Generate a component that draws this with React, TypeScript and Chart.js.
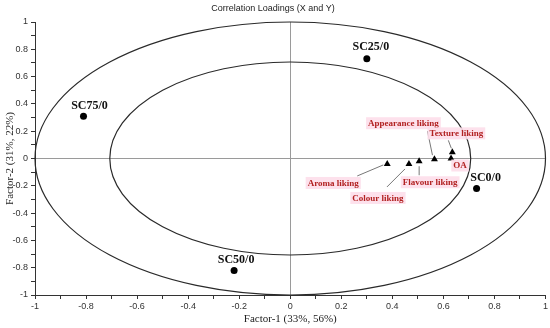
import React, { useEffect, useRef } from "react";
import { Chart, registerables } from "chart.js";

Chart.register(...registerables);

// Samples (X loadings) - circles
const sampleNames = ["SC25/0", "SC75/0", "SC50/0", "SC0/0"];
const sampleX = [0.3, -0.81, -0.22, 0.73];
const sampleY = [0.73, 0.31, -0.82, -0.22];

// Attributes (Y loadings) - triangles
const attrNames = ["Aroma liking", "Colour liking", "Flavour liking", "Appearance liking", "Texture liking", "OA"];
const attrX = [0.38, 0.465, 0.505, 0.565, 0.635, 0.63];
const attrY = [-0.04, -0.04, -0.02, -0.005, 0.045, 0.0];

// Correlation circles
const ellipseRadii = [1, 0.707];

const tickMin = -1;
const tickMax = 1;
const tickStep = 0.1;

const titleText = "Correlation Loadings (X and Y)";
const xTitle = "Factor-1 (33%, 56%)";
const yTitle = "Factor-2 (31%, 22%)";

// label placement (pixel offsets from the marker) – styling only
const sampleLabelOffsets = [
  [4, -12],
  [6, -10],
  [2, -11],
  [9, -11],
];
const attrLabelOffsets = [
  [-54, 19],
  [-31, 34],
  [11, 21],
  [-31, -36],
  [4, -19],
  [9, 7],
];
const attrLeaders: (number[] | null)[] = [
  [-30, 12, -4, 1],
  [-22, 23, -4, 5],
  [0, 14, 0, 5],
  [-7, -28, -2, -4],
  [-4, -12, -1, -4],
  null,
];

const overlayPlugin = {
  id: "overlay",
  beforeDatasetsDraw(chart: any) {
    const { ctx, scales } = chart;
    const xs = scales.x;
    const ys = scales.y;
    const cx = xs.getPixelForValue(0);
    const cy = ys.getPixelForValue(0);
    ctx.save();
    ctx.strokeStyle = "#2a2a2a";
    ctx.lineWidth = 1.2;
    ellipseRadii.forEach((r) => {
      const rx = xs.getPixelForValue(r) - cx;
      const ry = cy - ys.getPixelForValue(r);
      ctx.beginPath();
      ctx.ellipse(cx, cy, rx, ry, 0, 0, Math.PI * 2);
      ctx.stroke();
    });
    ctx.restore();
  },
  afterDatasetsDraw(chart: any) {
    const { ctx, scales } = chart;
    const xs = scales.x;
    const ys = scales.y;
    ctx.save();
    // sample labels
    ctx.font = "bold 12px 'Liberation Serif', 'Times New Roman', serif";
    ctx.fillStyle = "#111";
    ctx.textAlign = "center";
    ctx.textBaseline = "middle";
    sampleNames.forEach((n, i) => {
      const px = xs.getPixelForValue(sampleX[i]);
      const py = ys.getPixelForValue(sampleY[i]);
      ctx.fillText(n, px + sampleLabelOffsets[i][0], py + sampleLabelOffsets[i][1]);
    });
    // attribute leaders
    ctx.strokeStyle = "#777";
    ctx.lineWidth = 1;
    attrNames.forEach((n, i) => {
      const l = attrLeaders[i];
      if (!l) return;
      const px = xs.getPixelForValue(attrX[i]);
      const py = ys.getPixelForValue(attrY[i]);
      ctx.beginPath();
      ctx.moveTo(px + l[0], py + l[1]);
      ctx.lineTo(px + l[2], py + l[3]);
      ctx.stroke();
    });
    // attribute labels
    ctx.font = "bold 9px 'Liberation Serif', 'Times New Roman', serif";
    attrNames.forEach((n, i) => {
      const px = xs.getPixelForValue(attrX[i]) + attrLabelOffsets[i][0];
      const py = ys.getPixelForValue(attrY[i]) + attrLabelOffsets[i][1];
      const w = ctx.measureText(n).width;
      ctx.fillStyle = "rgba(253, 222, 234, 0.9)";
      ctx.fillRect(px - w / 2 - 2, py - 6, w + 4, 12);
      ctx.fillStyle = "#b22222";
      ctx.fillText(n, px, py + 0.5);
    });
    ctx.restore();
  },
};

const tickLabel = (v: number) => {
  const t = Math.round(v * 10);
  if (t % 2 !== 0) return "";
  return String(t / 10);
};

export default function App() {
  const ref = useRef<HTMLCanvasElement | null>(null);
  useEffect(() => {
    document.body.style.margin = "0";
    if (!ref.current) return;
    const tickFont = { family: "'Liberation Sans', Arial, sans-serif", size: 9 };
    const titleFont = { family: "'Liberation Serif', 'Times New Roman', serif", size: 11 };
    const zeroColor = (c: any) => (c.tick && Math.abs(c.tick.value) < 1e-9 ? "#9a9a9a" : "rgba(0,0,0,0)");
    const chart = new Chart(ref.current, {
      type: "scatter",
      data: {
        datasets: [
          {
            label: "Samples",
            data: sampleX.map((x, i) => ({ x, y: sampleY[i] })),
            pointStyle: "circle",
            pointRadius: 3.5,
            backgroundColor: "#000",
            borderColor: "#000",
            borderWidth: 0,
          },
          {
            label: "Attributes",
            data: attrX.map((x, i) => ({ x, y: attrY[i] })),
            pointStyle: "triangle",
            pointRadius: 4,
            backgroundColor: "#000",
            borderColor: "#000",
            borderWidth: 0,
          },
        ],
      },
      options: {
        animation: false,
        responsive: false,
        layout: { padding: { left: 0, right: 4, top: 0, bottom: 0 } },
        plugins: {
          legend: { display: false },
          tooltip: { enabled: false },
          title: {
            display: true,
            text: titleText,
            color: "#222",
            font: { family: "'Liberation Sans', Arial, sans-serif", size: 9, weight: "normal" },
            padding: { top: 3, bottom: 8.2 },
          },
        },
        scales: {
          x: {
            type: "linear",
            min: tickMin,
            max: tickMax,
            afterFit: (s: any) => {
              s.height = 33;
            },
            ticks: {
              stepSize: tickStep,
              autoSkip: false,
              maxRotation: 0,
              padding: 2,
              color: "#333",
              font: tickFont,
              callback: (v: any) => tickLabel(Number(v)),
            },
            grid: { color: zeroColor, tickColor: "#333", tickLength: 4, lineWidth: 1 },
            border: { display: true, color: "#333", width: 1 },
            title: { display: true, text: xTitle, color: "#222", font: titleFont, padding: { top: 0, bottom: 2.4 } },
          },
          y: {
            type: "linear",
            min: tickMin,
            max: tickMax,
            afterFit: (s: any) => {
              s.width = 35;
            },
            ticks: {
              stepSize: tickStep,
              autoSkip: false,
              padding: 3,
              color: "#333",
              font: tickFont,
              callback: (v: any) => tickLabel(Number(v)),
            },
            grid: { color: zeroColor, tickColor: "#333", tickLength: 4, lineWidth: 1 },
            border: { display: true, color: "#333", width: 1 },
            title: { display: true, text: yTitle, color: "#222", font: titleFont, padding: { top: 3.4, bottom: 0 } },
          },
        },
      },
      plugins: [overlayPlugin],
    } as any);
    return () => chart.destroy();
  }, []);
  return (
    <div style={{ position: "absolute", left: 0, top: 0, width: 550, height: 328, background: "#fff" }}>
      <canvas ref={ref} width={550} height={328} style={{ display: "block", width: 550, height: 328 }} />
    </div>
  );
}
